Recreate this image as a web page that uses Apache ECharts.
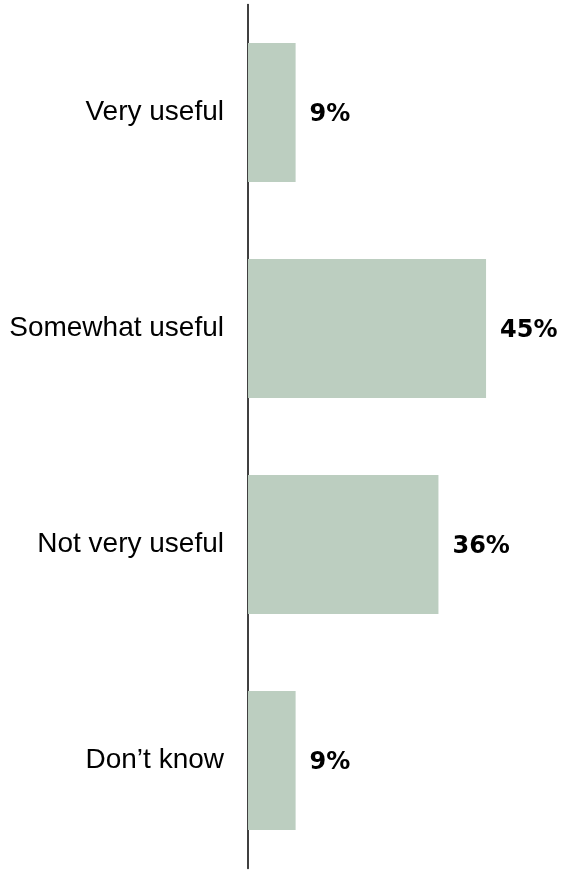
<!DOCTYPE html>
<html>
<head>
<meta charset="utf-8">
<script src="https://cdn.jsdelivr.net/npm/echarts@6/dist/echarts.min.js"></script>
<style>
  html, body { margin: 0; padding: 0; background: #fff; }
  #main { width: 563px; height: 870px; }
</style>
</head>
<body>
<div id="main"></div>
<script>
var categories = ['Very useful', 'Somewhat useful', 'Not very useful', 'Don\u2019t know']
var values = [9, 45, 36, 9]

var myChart = echarts.init(document.getElementById('main'))

var option = {
  backgroundColor: '#ffffff',
  animation: false,
  grid: {
    left: 248,
    right: 50.5,
    top: 4.5,
    bottom: 1.5,
    containLabel: false
  },
  xAxis: {
    type: 'value',
    min: 0,
    max: 50,
    show: false
  },
  yAxis: {
    type: 'category',
    data: categories,
    inverse: true,
    axisLine: {
      show: true,
      lineStyle: { color: '#000', width: 1.5 }
    },
    axisTick: { show: false },
    axisLabel: {
      margin: 24,
      color: '#000',
      fontSize: 28,
      fontFamily: 'Liberation Sans, Arial, sans-serif'
    }
  },
  series: [
    {
      type: 'bar',
      data: values,
      barWidth: 139,
      itemStyle: { color: '#bccec0' },
      label: {
        show: true,
        position: 'right',
        distance: 14,
        offset: [0, 2],
        formatter: '{c}%',
        color: '#000',
        fontSize: 24,
        fontWeight: 'bold',
        fontFamily: 'DejaVu Sans, Liberation Sans, sans-serif'
      }
    }
  ]
}

myChart.setOption(option, true)
</script>
</body>
</html>
